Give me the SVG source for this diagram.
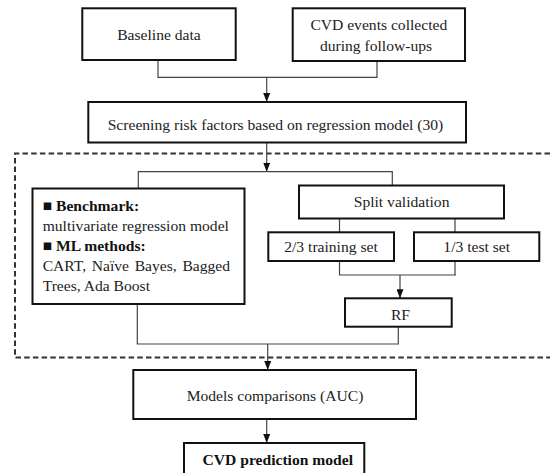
<svg xmlns="http://www.w3.org/2000/svg" width="550" height="473" viewBox="0 0 550 473">
<style>
.box{fill:#fff;stroke:#111;stroke-width:2}
.t{font-family:"Liberation Serif","Times New Roman",serif;font-size:15.6px;fill:#222;text-anchor:middle}
.l{font-family:"Liberation Serif","Times New Roman",serif;font-size:15.6px;fill:#222}
.b{font-weight:bold;fill:#111}
.c{fill:none;stroke:#444;stroke-width:1.2}
.dash{fill:none;stroke:#333;stroke-width:2;stroke-dasharray:5.5 3.2}
</style>
<defs>
<marker id="ah" viewBox="0 0 9 7" refX="9" refY="3.5" markerWidth="9" markerHeight="7" markerUnits="userSpaceOnUse" orient="auto">
<path d="M0,0 L9,3.5 L0,7 z" fill="#111"/>
</marker>
</defs>
<rect width="550" height="473" fill="#fff"/>
<path class="dash" d="M550 153.5 H15 V357.5 H550"/>
<g id="connectors">
<path class="c" d="M158 60 V77.3 H377 V61"/>
<path class="c" d="M266.7 77.3 V102" marker-end="url(#ah)"/>
<path class="c" d="M266.7 142.5 V171.7" marker-end="url(#ah)"/>
<path class="c" d="M138.3 188.5 V171.7 H392.3 V185.5"/>
<path class="c" d="M339.5 218.5 V232.3"/>
<path class="c" d="M455 218.5 V232.3"/>
<path class="c" d="M339.5 261 V275 H456 M455 261 V275"/>
<path class="c" d="M400 275 V298.3" marker-end="url(#ah)"/>
<path class="c" d="M398.3 326.7 V344 H137.3 V304"/>
<path class="c" d="M267.7 344 V370" marker-end="url(#ah)"/>
<path class="c" d="M266.7 419 V443" marker-end="url(#ah)"/>
</g>
<g id="baseline">
<rect class="box" x="82.3" y="8.3" width="153.4" height="51.7"/>
<text class="t" x="159" y="40">Baseline data</text>
</g>
<g id="cvd-events">
<rect class="box" x="292.7" y="8.3" width="172.3" height="52.7"/>
<text class="t" x="378.8" y="30">CVD events collected</text>
<text class="t" x="376" y="50.5">during  follow-ups</text>
</g>
<g id="screening">
<rect class="box" x="88.3" y="102" width="377.7" height="40.5"/>
<text class="t" x="275.5" y="130">Screening risk factors based on regression model (30)</text>
</g>
<g id="methods">
<rect class="box" x="32.5" y="188.5" width="212" height="115.5"/>
<text class="l" x="42.7" y="211"><tspan class="b">■ Benchmark:</tspan></text>
<text class="l" x="42.7" y="231">multivariate regression model</text>
<text class="l" x="42.7" y="251"><tspan class="b">■ ML methods:</tspan></text>
<text class="l" x="42.7" y="271" word-spacing="1.8">CART, Naïve Bayes, Bagged</text>
<text class="l" x="42.7" y="291">Trees, Ada Boost</text>
</g>
<g id="split">
<rect class="box" x="299" y="185.5" width="205" height="33"/>
<text class="t" x="401.6" y="207">Split validation</text>
</g>
<g id="training">
<rect class="box" x="268.3" y="232.3" width="125.7" height="28.7"/>
<text class="t" x="331" y="252">2/3 training set</text>
</g>
<g id="test">
<rect class="box" x="414" y="232.3" width="125.3" height="28.7"/>
<text class="t" x="476.7" y="252">1/3 test set</text>
</g>
<g id="rf">
<rect class="box" x="345" y="298.3" width="106.7" height="28.4"/>
<text class="t" x="400.5" y="320">RF</text>
</g>
<g id="comparisons">
<rect class="box" x="133.3" y="370" width="282.7" height="49"/>
<text class="t" x="275" y="400.7">Models comparisons (AUC)</text>
</g>
<g id="prediction">
<rect class="box" x="184" y="443" width="180.3" height="40"/>
<text class="t b" x="277.8" y="465">CVD prediction model</text>
</g>
</svg>
